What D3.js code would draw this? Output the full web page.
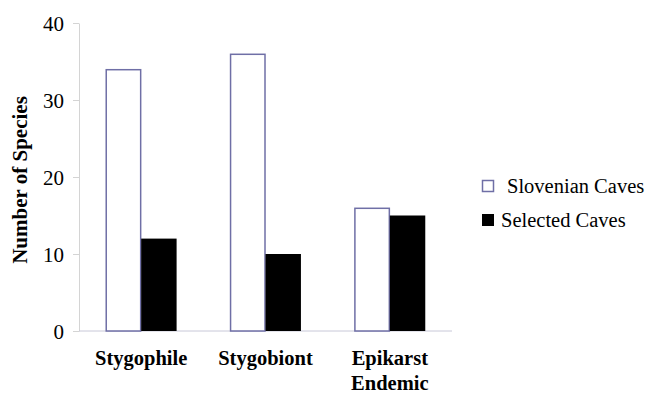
<!DOCTYPE html>
<html>
<head>
<meta charset="utf-8">
<script src="https://cdn.jsdelivr.net/npm/d3@7"></script>
<style>
  body { margin: 0; background: #fff; }
</style>
</head>
<body>
<div id="chart"></div>
<script>
// data
const categories = [["Stygophile"], ["Stygobiont"], ["Epikarst", "Endemic"]];
const seriesNames = ["Slovenian Caves", "Selected Caves"];
const slovenianCaves = [34, 36, 16];
const selectedCaves = [12, 10, 15];
const yTicks = [0, 10, 20, 30, 40];

const FONT = "Liberation Serif";
const width = 648, height = 398;
const margin = {top: 23, right: 196, bottom: 67, left: 79};

const svg = d3.select("#chart").append("svg")
  .attr("width", width)
  .attr("height", height);

const catKeys = categories.map(c => c.join(" "));
const rows = catKeys.map((k, i) => ({key: k, lines: categories[i], values: [slovenianCaves[i], selectedCaves[i]]}));

const x0 = d3.scaleBand()
  .domain(catKeys)
  .range([margin.left, width - margin.right])
  .paddingInner(0.43)
  .paddingOuter(0.215);

const x1 = d3.scaleBand()
  .domain(seriesNames)
  .range([0, x0.bandwidth()]);

const y = d3.scaleLinear()
  .domain([0, 40])
  .range([height - margin.bottom, margin.top]);

// y axis
const yAxis = svg.append("g")
  .attr("transform", `translate(${margin.left},0)`)
  .call(d3.axisLeft(y).tickValues(yTicks).tickSize(6).tickPadding(9).tickSizeOuter(0));
yAxis.attr("font-family", FONT).attr("font-size", 21);
yAxis.select(".domain").attr("stroke", "#d4d4d4");
yAxis.selectAll(".tick line").attr("stroke", "#d4d4d4");
yAxis.selectAll(".tick text")
  .attr("fill", "#000")
  .attr("dy", "0.34em");

// x baseline
svg.append("line")
  .attr("x1", margin.left)
  .attr("x2", width - margin.right)
  .attr("y1", y(0))
  .attr("y2", y(0))
  .attr("stroke", "#c8c8d8");

// bars
const groups = svg.selectAll(".grp")
  .data(rows)
  .enter().append("g")
  .attr("class", "grp")
  .attr("transform", d => `translate(${x0(d.key)},0)`);

groups.selectAll("rect")
  .data(d => d.values.map((v, i) => ({name: seriesNames[i], value: v})))
  .enter().append("rect")
  .attr("x", d => x1(d.name) + (d.name === seriesNames[0] ? 0.5 : 0))
  .attr("y", d => y(d.value) + (d.name === seriesNames[0] ? 0.5 : 0))
  .attr("width", d => x1.bandwidth() - (d.name === seriesNames[0] ? 1 : 0))
  .attr("height", d => y(0) - y(d.value) - (d.name === seriesNames[0] ? 0.5 : 0))
  .attr("fill", d => d.name === seriesNames[0] ? "#fff" : "#000")
  .attr("stroke", d => d.name === seriesNames[0] ? "#6f6fa6" : "none")
  .attr("stroke-width", 1.5);

// category labels
const catLabels = svg.selectAll(".cat")
  .data(rows)
  .enter().append("text")
  .attr("class", "cat")
  .attr("text-anchor", "middle")
  .attr("x", d => x0(d.key) + x0.bandwidth() / 2)
  .attr("y", 365)
  .attr("font-family", FONT)
  .attr("font-size", 20.5)
  .attr("font-weight", "bold");
catLabels.selectAll("tspan")
  .data(d => d.lines)
  .enter().append("tspan")
  .attr("x", function() { return d3.select(this.parentNode).attr("x"); })
  .attr("dy", (d, i) => i === 0 ? 0 : 25)
  .text(d => d);

// y title
svg.append("text")
  .attr("transform", `translate(27,${(y(0) + y(40)) / 2 + 3}) rotate(-90)`)
  .attr("text-anchor", "middle")
  .attr("font-family", FONT)
  .attr("font-size", 21)
  .attr("font-weight", "bold")
  .text("Number of Species");

// legend
const legend = svg.append("g").attr("transform", "translate(482,180)");
const legItems = legend.selectAll(".leg")
  .data(seriesNames)
  .enter().append("g")
  .attr("class", "leg")
  .attr("transform", (d, i) => `translate(0,${i * 34})`);
legItems.append("rect")
  .attr("x", d => d === seriesNames[0] ? 0.5 : 0)
  .attr("y", d => d === seriesNames[0] ? 0.5 : 0)
  .attr("width", d => d === seriesNames[0] ? 11 : 12)
  .attr("height", d => d === seriesNames[0] ? 11 : 12)
  .attr("fill", d => d === seriesNames[0] ? "#fff" : "#000")
  .attr("stroke", d => d === seriesNames[0] ? "#6f6fa6" : "none")
  .attr("stroke-width", 1.5);
legItems.append("text")
  .attr("x", (d, i) => i === 0 ? 25 : 19)
  .attr("y", 13)
  .attr("font-family", FONT)
  .attr("font-size", 20.5)
  .text(d => d);
</script>
</body>
</html>
